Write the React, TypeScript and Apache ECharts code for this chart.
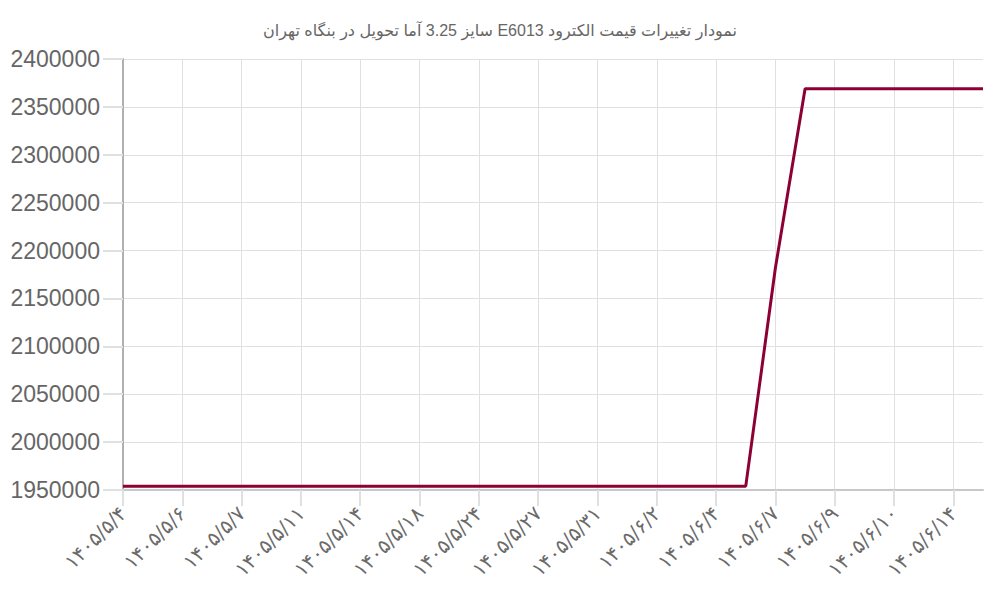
import React, { useEffect, useRef } from 'react';
import * as echarts from 'echarts';

// دسته‌ها (هر دو دسته یک برچسب نمایش داده می‌شود)
const dates = [
  '۱۴۰۵/۵/۴', '۱۴۰۵/۵/۵', '۱۴۰۵/۵/۶', '۱۴۰۵/۵/۶', '۱۴۰۵/۵/۷', '۱۴۰۵/۵/۹',
  '۱۴۰۵/۵/۱۱', '۱۴۰۵/۵/۱۲', '۱۴۰۵/۵/۱۴', '۱۴۰۵/۵/۱۵', '۱۴۰۵/۵/۱۸', '۱۴۰۵/۵/۲۱',
  '۱۴۰۵/۵/۲۴', '۱۴۰۵/۵/۲۵', '۱۴۰۵/۵/۲۷', '۱۴۰۵/۵/۲۸', '۱۴۰۵/۵/۳۱', '۱۴۰۵/۶/۱',
  '۱۴۰۵/۶/۲', '۱۴۰۵/۶/۳', '۱۴۰۵/۶/۴', '۱۴۰۵/۶/۵', '۱۴۰۵/۶/۷', '۱۴۰۵/۶/۸',
  '۱۴۰۵/۶/۹', '۱۴۰۵/۶/۹', '۱۴۰۵/۶/۱۰', '۱۴۰۵/۶/۱۲', '۱۴۰۵/۶/۱۴', '۱۴۰۵/۶/۱۵'
];

// قیمت (ریال)
const prices = [
  1954000, 1954000, 1954000, 1954000, 1954000, 1954000,
  1954000, 1954000, 1954000, 1954000, 1954000, 1954000,
  1954000, 1954000, 1954000, 1954000, 1954000, 1954000,
  1954000, 1954000, 1954000, 1954000, 2182000, 2369000,
  2369000, 2369000, 2369000, 2369000, 2369000, 2369000
];

const yMin = 1950000;
const yMax = 2400000;
const yStep = 50000;

const titleText = 'نمودار تغییرات قیمت الکترود E6013 سایز 3.25 آما تحویل در بنگاه تهران';

const App: React.FC = () => {
  const chartRef = useRef<HTMLDivElement>(null);

  useEffect(() => {
    if (!chartRef.current) return;
    document.body.style.margin = '0';
    const chart = echarts.init(chartRef.current, undefined, { renderer: 'svg' });

    const option = {
      animation: false,
      title: {
        // RLE ... PDF so the mixed Persian/Latin title reads right-to-left
        text: '\u202B' + titleText + '\u202C',
        left: 'center',
        top: 17,
        textStyle: {
          fontSize: 16,
          fontWeight: 'normal',
          color: '#666',
          fontFamily: '"Liberation Sans", "DejaVu Sans", sans-serif'
        }
      },
      grid: {
        left: 123,
        right: 17,
        top: 59,
        bottom: 110,
        containLabel: false
      },
      xAxis: {
        type: 'category',
        data: dates,
        boundaryGap: false,
        axisLine: { show: true, lineStyle: { color: '#c8c8c8', width: 2 } },
        axisTick: {
          show: true,
          interval: 1,
          length: 16,
          lineStyle: { color: '#e0e0e0', width: 2 }
        },
        axisLabel: {
          interval: 1,
          rotate: 45,
          margin: 20,
          fontSize: 20,
          color: '#6b6b6b',
          fontFamily: '"DejaVu Sans", sans-serif'
        },
        splitLine: {
          show: true,
          interval: 1,
          lineStyle: { color: '#e0e0e0', width: 1 }
        }
      },
      yAxis: {
        type: 'value',
        min: yMin,
        max: yMax,
        interval: yStep,
        axisLine: { show: true, lineStyle: { color: '#b0b0b0', width: 2 } },
        axisTick: {
          show: true,
          length: 20,
          lineStyle: { color: '#e0e0e0', width: 2 }
        },
        axisLabel: {
          margin: 23,
          fontSize: 23,
          color: '#666',
          fontFamily: '"Liberation Sans", Arial, sans-serif',
          formatter: (v: number) => String(v)
        },
        splitLine: {
          show: true,
          lineStyle: { color: '#e0e0e0', width: 1 }
        }
      },
      series: [
        {
          name: 'قیمت',
          type: 'line',
          data: prices,
          showSymbol: false,
          symbol: 'none',
          lineStyle: { color: '#8c0034', width: 3 },
          itemStyle: { color: '#8c0034' }
        }
      ]
    };

    chart.setOption(option);

    return () => {
      chart.dispose();
    };
  }, []);

  return <div ref={chartRef} style={{ width: '1000px', height: '600px' }}></div>;
};

export default App;
